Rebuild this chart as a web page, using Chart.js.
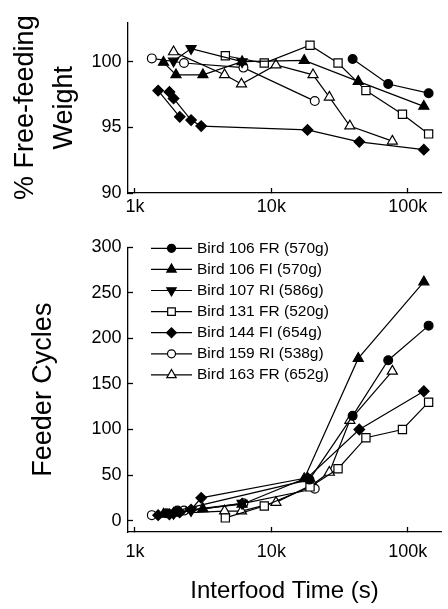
<!DOCTYPE html>
<html lang="en">
<head>
<meta charset="UTF-8">
<title>Interfood time: weight and feeder cycles</title>
<style>
  body { margin: 0; background: #fff; }
  #wrap { position: relative; width: 448px; height: 609px; }
  canvas { position: absolute; left: 0; }
  #weightChart { top: 0; }
  #cycleChart { top: 225px; }
</style>
</head>
<body>
<div id="wrap">
  <canvas id="weightChart" width="448" height="225"></canvas>
  <canvas id="cycleChart" width="448" height="384"></canvas>
</div>
<script src="https://cdn.jsdelivr.net/npm/chart.js@4"></script>
<script>
// one entry per bird, same order everywhere
const birds = [
  'Bird 106 FR (570g)',
  'Bird 106 FI (570g)',
  'Bird 107 RI (586g)',
  'Bird 131 FR (520g)',
  'Bird 144 FI (654g)',
  'Bird 159 RI (538g)',
  'Bird 163 FR (652g)'
];
const markers = ['circle', 'triangle', 'triangle', 'rect', 'rectRot', 'circle', 'triangle'];
const markerRotation = [0, 0, 180, 0, 0, 0, 0];
const filled = [true, true, true, false, true, false, false];
const markerSize = [4.4, 5.8, 5.8, 5.8, 5.3, 4.4, 5.8];

// interfood times (s); a null value below breaks the line
const times = [
  [1700, 2050, 19000, 39400, 71800, 142000],
  [1620, 2000, 3150, 6100, 17400, 43300, 131000],
  [1920, 2580, 6100],
  [4600, 8870, 19200, 30800, 49300, 91300, 142000],
  [1480, 2130, 2000, 1790, 1920, 2580, 3060, 18400, 44100, 131000],
  [1330, 2290, 6240, 20800],
  [1920, 4540, 6040, 10800, 20200, 26600, 37600, 77000]
];
// % of free-feeding weight
const weight = [
  [null, null, null, 100.2, 98.3, 97.6],
  [99.95, 99.0, 99.0, 100.0, 100.1, 98.5, 96.6],
  [100.05, 101.0, 100.0],
  [100.45, 99.9, 101.25, 99.9, 97.8, 96.0, 94.5],
  [97.8, 95.8, null, 97.7, 97.2, 95.55, 95.1, 94.8, 93.9, 93.3],
  [100.25, 99.9, 99.55, 97.0],
  [100.75, 99.0, 98.3, 99.75, 99.0, 97.3, 95.1, 93.95]
];
// feeder cycles
const cycles = [
  [8, 11, 45, 115, 176, 214],
  [7, 9, 13, 18, 46, 178, 262],
  [8, 11, 19],
  [3, 16, 37, 57, 91, 100, 130],
  [6, 9, null, 7, 8, 12, 25, 47, 100, 142],
  [6, 11, 19, 35],
  [8, 10.5, 10.5, 20, 40, 53, 110, 164]
];

const xTicks = [1000, 10000, 100000];
const xTickLabels = ['1k', '10k', '100k'];
const weightTicks = [90, 95, 100];
const cycleTicks = [0, 50, 100, 150, 200, 250, 300];

const FONT = "'Liberation Sans', Arial, Helvetica, sans-serif";
const INK = '#000';

function makeSets(values) {
  return birds.map((name, i) => ({
    label: name,
    data: times[i].map((t, j) => ({ x: t, y: values[i][j] })),
    borderColor: INK,
    borderWidth: 1.2,
    pointStyle: markers[i],
    pointRotation: markerRotation[i],
    pointRadius: markerSize[i],
    pointBorderWidth: 1.2,
    pointBorderColor: INK,
    pointBackgroundColor: filled[i] ? INK : '#fff',
    spanGaps: false,
    tension: 0,
    fill: false
  }));
}

function xScale(labelPad, height, title) {
  return {
    type: 'logarithmic',
    min: 890,
    max: 175000,
    afterBuildTicks: s => { s.ticks = xTicks.map(v => ({ value: v })); },
    afterFit: s => { s.height = height; },
    border: { display: true, color: INK, width: 1.3 },
    grid: { drawOnChartArea: false, drawTicks: true, tickLength: -5, tickColor: INK, tickWidth: 1.3 },
    ticks: {
      color: INK, padding: labelPad, maxRotation: 0, autoSkip: false,
      font: { family: FONT, size: 18 },
      callback: (v) => xTickLabels[xTicks.indexOf(v)] || ''
    },
    title: title || { display: false }
  };
}

function yScale(min, max, tickValues, title) {
  return {
    type: 'linear',
    min: min,
    max: max,
    afterBuildTicks: s => { s.ticks = tickValues.map(v => ({ value: v })); },
    afterFit: s => { s.width = 128; },
    border: { display: true, color: INK, width: 1.3 },
    grid: { drawOnChartArea: false, drawTicks: true, tickLength: -5, tickColor: INK, tickWidth: 1.3 },
    ticks: { color: INK, padding: 11.5, font: { family: FONT, size: 18 } },
    title: title
  };
}

// legend inside the lower plot: short line with the marker, then the name
const inlineLegend = {
  id: 'inlineLegend',
  afterDraw(chart) {
    const ctx = chart.ctx;
    ctx.save();
    ctx.font = '15.5px ' + FONT;
    ctx.textBaseline = 'middle';
    ctx.textAlign = 'left';
    birds.forEach((name, i) => {
      const y = 23.3 + i * 21.1;
      ctx.strokeStyle = INK;
      ctx.lineWidth = 1.2;
      ctx.beginPath();
      ctx.moveTo(151, y);
      ctx.lineTo(192, y);
      ctx.stroke();
      ctx.fillStyle = filled[i] ? INK : '#fff';
      Chart.helpers.drawPoint(ctx, {
        pointStyle: markers[i], rotation: markerRotation[i],
        radius: markerSize[i] - 0.4, borderWidth: 1.2
      }, 171.5, y);
      ctx.fillStyle = INK;
      ctx.fillText(name, 197, y);
    });
    ctx.restore();
  }
};

const common = {
  responsive: false,
  animation: false,
  events: [],
  plugins: { legend: { display: false }, tooltip: { enabled: false } }
};

new Chart(document.getElementById('weightChart'), {
  type: 'line',
  data: { datasets: makeSets(weight) },
  options: Object.assign({}, common, {
    layout: { padding: { top: 13, right: 1, left: 0, bottom: 0 } },
    scales: {
      x: xScale(8.7, 32),
      y: yScale(90, 103, weightTicks, {
        display: true,
        text: ['% Free-feeding', 'Weight'],
        color: INK,
        font: { family: FONT, size: 27, lineHeight: 1.45 },
        padding: { top: 6, bottom: 0 }
      })
    }
  })
});

new Chart(document.getElementById('cycleChart'), {
  type: 'line',
  data: { datasets: makeSets(cycles) },
  options: Object.assign({}, common, {
    layout: { padding: { top: 11, right: 1, left: 0, bottom: 0 } },
    scales: {
      x: xScale(14.7, 77, {
        display: true,
        text: 'Interfood Time (s)',
        color: INK,
        font: { family: FONT, size: 24 },
        padding: { top: 0, bottom: 3 }
      }),
      y: yScale(-12.5, 300, cycleTicks, {
        display: true,
        text: 'Feeder Cycles',
        color: INK,
        font: { family: FONT, size: 27 },
        padding: { top: 27, bottom: 0 }
      })
    }
  }),
  plugins: [inlineLegend]
});
</script>
</body>
</html>
